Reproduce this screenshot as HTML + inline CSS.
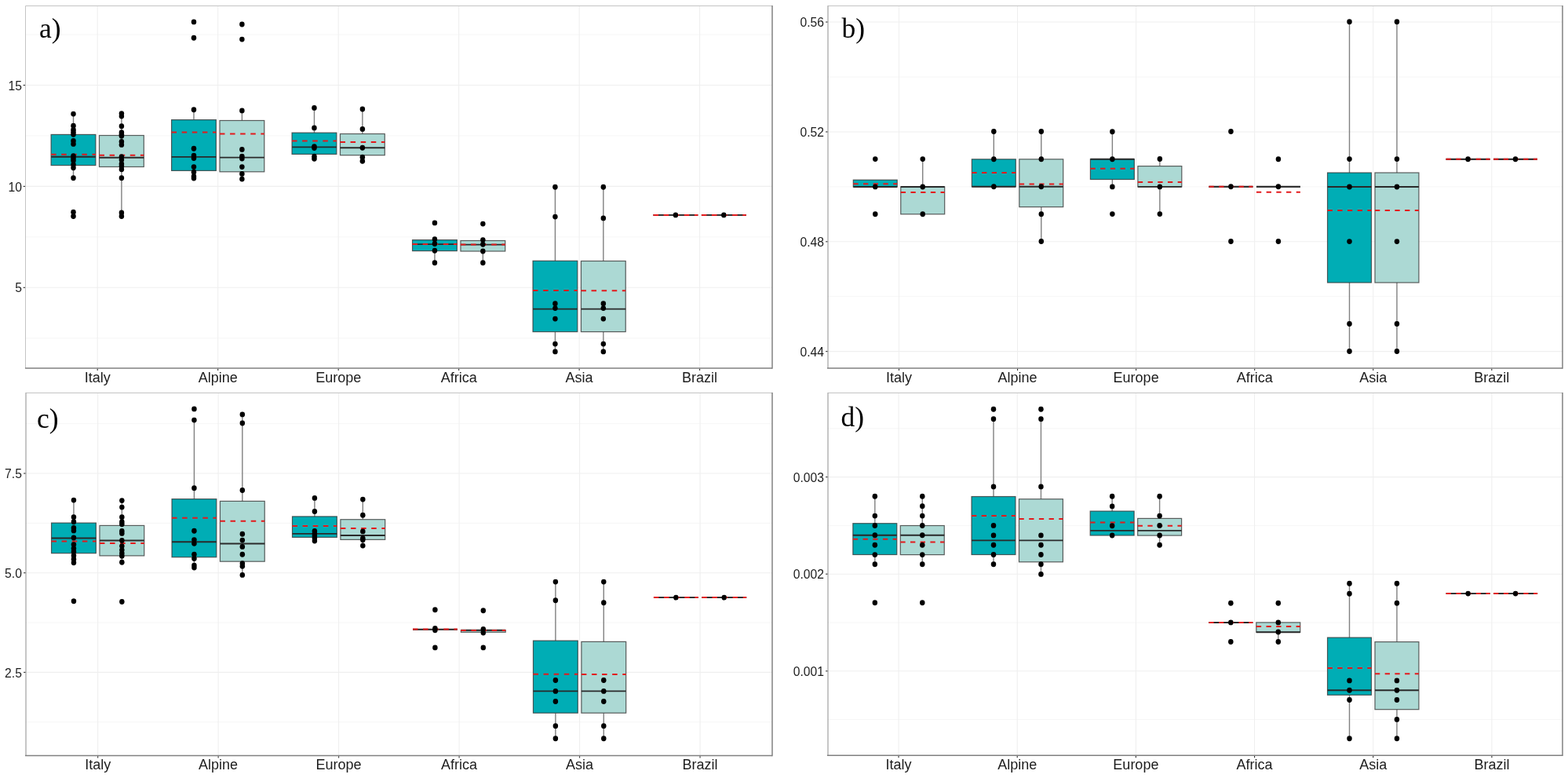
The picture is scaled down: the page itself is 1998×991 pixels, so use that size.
<!DOCTYPE html>
<html><head><meta charset="utf-8"><title>Boxplots a-d</title>
<style>
html,body{margin:0;padding:0;background:#fff;}
body{width:1998px;height:991px;overflow:hidden;}
svg{display:block;}
.yl{font-family:"Liberation Sans",sans-serif;font-size:15.7px;fill:#1c1c1c;text-anchor:end;}
.xl{font-family:"Liberation Sans",sans-serif;font-size:18px;fill:#1c1c1c;text-anchor:middle;}
.pl{font-family:"Liberation Serif",serif;font-size:35.5px;fill:#000;}
</style></head>
<body>
<svg width="1998" height="991" viewBox="0 0 1998 991">
<rect width="1998" height="991" fill="#fff"/>
<line x1="32.5" x2="984" y1="44.05" y2="44.05" stroke="#f6f6f6" stroke-width="1"/><line x1="32.5" x2="984" y1="172.95" y2="172.95" stroke="#f6f6f6" stroke-width="1"/><line x1="32.5" x2="984" y1="301.85" y2="301.85" stroke="#f6f6f6" stroke-width="1"/><line x1="32.5" x2="984" y1="430.75" y2="430.75" stroke="#f6f6f6" stroke-width="1"/><line x1="32.5" x2="984" y1="108.5" y2="108.5" stroke="#efefef" stroke-width="1.1"/><line x1="32.5" x2="984" y1="237.4" y2="237.4" stroke="#efefef" stroke-width="1.1"/><line x1="32.5" x2="984" y1="366.3" y2="366.3" stroke="#efefef" stroke-width="1.1"/><line x1="124.2" x2="124.2" y1="7.5" y2="469" stroke="#efefef" stroke-width="1.1"/><line x1="277.68" x2="277.68" y1="7.5" y2="469" stroke="#efefef" stroke-width="1.1"/><line x1="431.16" x2="431.16" y1="7.5" y2="469" stroke="#efefef" stroke-width="1.1"/><line x1="584.64" x2="584.64" y1="7.5" y2="469" stroke="#efefef" stroke-width="1.1"/><line x1="738.12" x2="738.12" y1="7.5" y2="469" stroke="#efefef" stroke-width="1.1"/><line x1="891.6" x2="891.6" y1="7.5" y2="469" stroke="#efefef" stroke-width="1.1"/>
<line x1="93.5" x2="93.5" y1="145.1" y2="171.4" stroke="#808080" stroke-width="1.4"/><line x1="93.5" x2="93.5" y1="210.6" y2="226.8" stroke="#808080" stroke-width="1.4"/><rect x="65.1" y="171.4" width="56.8" height="39.2" fill="#00adb5" stroke="rgba(51,51,51,0.78)" stroke-width="1.2"/><line x1="65.1" x2="121.9" y1="199.7" y2="199.7" stroke="#2a2a2a" stroke-width="1.9"/><line x1="65.1" x2="121.9" y1="196.8" y2="196.8" stroke="#e31a1c" stroke-width="2.0" stroke-dasharray="6.5 6.6"/><ellipse cx="93.5" cy="145.1" rx="3.25" ry="3.45"/><ellipse cx="93.5" cy="160.2" rx="3.25" ry="3.45"/><ellipse cx="93.5" cy="165.3" rx="3.25" ry="3.45"/><ellipse cx="93.5" cy="168.3" rx="3.25" ry="3.45"/><ellipse cx="93.5" cy="171.3" rx="3.25" ry="3.45"/><ellipse cx="93.5" cy="179.4" rx="3.25" ry="3.45"/><ellipse cx="93.5" cy="183.4" rx="3.25" ry="3.45"/><ellipse cx="93.5" cy="198.6" rx="3.25" ry="3.45"/><ellipse cx="93.5" cy="201.6" rx="3.25" ry="3.45"/><ellipse cx="93.5" cy="204.6" rx="3.25" ry="3.45"/><ellipse cx="93.5" cy="209.7" rx="3.25" ry="3.45"/><ellipse cx="93.5" cy="213.7" rx="3.25" ry="3.45"/><ellipse cx="93.5" cy="226.8" rx="3.25" ry="3.45"/><ellipse cx="93.5" cy="270.3" rx="3.25" ry="3.45"/><ellipse cx="93.5" cy="275.5" rx="3.25" ry="3.45"/>
<line x1="154.9" x2="154.9" y1="144.6" y2="172.5" stroke="#808080" stroke-width="1.4"/><line x1="154.9" x2="154.9" y1="212.5" y2="271" stroke="#808080" stroke-width="1.4"/><rect x="126.5" y="172.5" width="56.8" height="40" fill="#acd9d4" stroke="rgba(51,51,51,0.78)" stroke-width="1.2"/><line x1="126.5" x2="183.3" y1="200.8" y2="200.8" stroke="#2a2a2a" stroke-width="1.9"/><line x1="126.5" x2="183.3" y1="197.8" y2="197.8" stroke="#e31a1c" stroke-width="2.0" stroke-dasharray="6.5 6.6"/><ellipse cx="154.9" cy="144.6" rx="3.25" ry="3.45"/><ellipse cx="154.9" cy="148.1" rx="3.25" ry="3.45"/><ellipse cx="154.9" cy="160.7" rx="3.25" ry="3.45"/><ellipse cx="154.9" cy="168.8" rx="3.25" ry="3.45"/><ellipse cx="154.9" cy="171.3" rx="3.25" ry="3.45"/><ellipse cx="154.9" cy="173.3" rx="3.25" ry="3.45"/><ellipse cx="154.9" cy="180.4" rx="3.25" ry="3.45"/><ellipse cx="154.9" cy="184.4" rx="3.25" ry="3.45"/><ellipse cx="154.9" cy="199.6" rx="3.25" ry="3.45"/><ellipse cx="154.9" cy="203.6" rx="3.25" ry="3.45"/><ellipse cx="154.9" cy="208.7" rx="3.25" ry="3.45"/><ellipse cx="154.9" cy="211.7" rx="3.25" ry="3.45"/><ellipse cx="154.9" cy="215.7" rx="3.25" ry="3.45"/><ellipse cx="154.9" cy="226.8" rx="3.25" ry="3.45"/><ellipse cx="154.9" cy="271" rx="3.25" ry="3.45"/><ellipse cx="154.9" cy="275.5" rx="3.25" ry="3.45"/>
<line x1="246.98" x2="246.98" y1="139.7" y2="152.6" stroke="#808080" stroke-width="1.4"/><line x1="246.98" x2="246.98" y1="217.4" y2="227" stroke="#808080" stroke-width="1.4"/><rect x="218.58" y="152.6" width="56.8" height="64.8" fill="#00adb5" stroke="rgba(51,51,51,0.78)" stroke-width="1.2"/><line x1="218.58" x2="275.38" y1="199.9" y2="199.9" stroke="#2a2a2a" stroke-width="1.9"/><line x1="218.58" x2="275.38" y1="168.6" y2="168.6" stroke="#e31a1c" stroke-width="2.0" stroke-dasharray="6.5 6.6"/><ellipse cx="246.98" cy="27.9" rx="3.25" ry="3.45"/><ellipse cx="246.98" cy="48.3" rx="3.25" ry="3.45"/><ellipse cx="246.98" cy="139.7" rx="3.25" ry="3.45"/><ellipse cx="246.98" cy="189.3" rx="3.25" ry="3.45"/><ellipse cx="246.98" cy="198.1" rx="3.25" ry="3.45"/><ellipse cx="246.98" cy="201.5" rx="3.25" ry="3.45"/><ellipse cx="246.98" cy="212.6" rx="3.25" ry="3.45"/><ellipse cx="246.98" cy="219.2" rx="3.25" ry="3.45"/><ellipse cx="246.98" cy="224.8" rx="3.25" ry="3.45"/><ellipse cx="246.98" cy="227" rx="3.25" ry="3.45"/>
<line x1="308.38" x2="308.38" y1="140.9" y2="153.5" stroke="#808080" stroke-width="1.4"/><line x1="308.38" x2="308.38" y1="218.8" y2="228.1" stroke="#808080" stroke-width="1.4"/><rect x="279.98" y="153.5" width="56.8" height="65.3" fill="#acd9d4" stroke="rgba(51,51,51,0.78)" stroke-width="1.2"/><line x1="279.98" x2="336.78" y1="200.6" y2="200.6" stroke="#2a2a2a" stroke-width="1.9"/><line x1="279.98" x2="336.78" y1="170.4" y2="170.4" stroke="#e31a1c" stroke-width="2.0" stroke-dasharray="6.5 6.6"/><ellipse cx="308.38" cy="31" rx="3.25" ry="3.45"/><ellipse cx="308.38" cy="50.1" rx="3.25" ry="3.45"/><ellipse cx="308.38" cy="140.9" rx="3.25" ry="3.45"/><ellipse cx="308.38" cy="190.4" rx="3.25" ry="3.45"/><ellipse cx="308.38" cy="199.2" rx="3.25" ry="3.45"/><ellipse cx="308.38" cy="202.1" rx="3.25" ry="3.45"/><ellipse cx="308.38" cy="212.6" rx="3.25" ry="3.45"/><ellipse cx="308.38" cy="221.4" rx="3.25" ry="3.45"/><ellipse cx="308.38" cy="228.1" rx="3.25" ry="3.45"/>
<line x1="400.46" x2="400.46" y1="137.4" y2="169.1" stroke="#808080" stroke-width="1.4"/><line x1="400.46" x2="400.46" y1="196.4" y2="202.3" stroke="#808080" stroke-width="1.4"/><rect x="372.06" y="169.1" width="56.8" height="27.3" fill="#00adb5" stroke="rgba(51,51,51,0.78)" stroke-width="1.2"/><line x1="372.06" x2="428.86" y1="187.4" y2="187.4" stroke="#2a2a2a" stroke-width="1.9"/><line x1="372.06" x2="428.86" y1="179.6" y2="179.6" stroke="#e31a1c" stroke-width="2.0" stroke-dasharray="6.5 6.6"/><ellipse cx="400.46" cy="137.4" rx="3.25" ry="3.45"/><ellipse cx="400.46" cy="162.9" rx="3.25" ry="3.45"/><ellipse cx="400.46" cy="186.6" rx="3.25" ry="3.45"/><ellipse cx="400.46" cy="188.6" rx="3.25" ry="3.45"/><ellipse cx="400.46" cy="199.2" rx="3.25" ry="3.45"/><ellipse cx="400.46" cy="202.3" rx="3.25" ry="3.45"/>
<line x1="461.86" x2="461.86" y1="139" y2="170.5" stroke="#808080" stroke-width="1.4"/><line x1="461.86" x2="461.86" y1="197.7" y2="205.3" stroke="#808080" stroke-width="1.4"/><rect x="433.46" y="170.5" width="56.8" height="27.2" fill="#acd9d4" stroke="rgba(51,51,51,0.78)" stroke-width="1.2"/><line x1="433.46" x2="490.26" y1="188.3" y2="188.3" stroke="#2a2a2a" stroke-width="1.9"/><line x1="433.46" x2="490.26" y1="180.9" y2="180.9" stroke="#e31a1c" stroke-width="2.0" stroke-dasharray="6.5 6.6"/><ellipse cx="461.86" cy="139" rx="3.25" ry="3.45"/><ellipse cx="461.86" cy="164.4" rx="3.25" ry="3.45"/><ellipse cx="461.86" cy="188.3" rx="3.25" ry="3.45"/><ellipse cx="461.86" cy="200.2" rx="3.25" ry="3.45"/><ellipse cx="461.86" cy="205.3" rx="3.25" ry="3.45"/>
<line x1="553.94" x2="553.94" y1="319.6" y2="334.7" stroke="#808080" stroke-width="1.4"/><rect x="525.54" y="305.6" width="56.8" height="14" fill="#00adb5" stroke="rgba(51,51,51,0.78)" stroke-width="1.2"/><line x1="525.54" x2="582.34" y1="311.1" y2="311.1" stroke="#2a2a2a" stroke-width="1.9"/><line x1="525.54" x2="582.34" y1="311" y2="311" stroke="#e31a1c" stroke-width="2.0" stroke-dasharray="6.5 6.6"/><ellipse cx="553.94" cy="283.9" rx="3.25" ry="3.45"/><ellipse cx="553.94" cy="304.8" rx="3.25" ry="3.45"/><ellipse cx="553.94" cy="310.5" rx="3.25" ry="3.45"/><ellipse cx="553.94" cy="319.2" rx="3.25" ry="3.45"/><ellipse cx="553.94" cy="334.7" rx="3.25" ry="3.45"/>
<line x1="615.34" x2="615.34" y1="320" y2="334.7" stroke="#808080" stroke-width="1.4"/><rect x="586.94" y="306.5" width="56.8" height="13.5" fill="#acd9d4" stroke="rgba(51,51,51,0.78)" stroke-width="1.2"/><line x1="586.94" x2="643.74" y1="311.6" y2="311.6" stroke="#2a2a2a" stroke-width="1.9"/><line x1="586.94" x2="643.74" y1="311.6" y2="311.6" stroke="#e31a1c" stroke-width="2.0" stroke-dasharray="6.5 6.6"/><ellipse cx="615.34" cy="285.1" rx="3.25" ry="3.45"/><ellipse cx="615.34" cy="305.6" rx="3.25" ry="3.45"/><ellipse cx="615.34" cy="311.3" rx="3.25" ry="3.45"/><ellipse cx="615.34" cy="320" rx="3.25" ry="3.45"/><ellipse cx="615.34" cy="334.7" rx="3.25" ry="3.45"/>
<line x1="707.42" x2="707.42" y1="238.2" y2="332.3" stroke="#808080" stroke-width="1.4"/><line x1="707.42" x2="707.42" y1="422.6" y2="447.9" stroke="#808080" stroke-width="1.4"/><rect x="679.02" y="332.3" width="56.8" height="90.3" fill="#00adb5" stroke="rgba(51,51,51,0.78)" stroke-width="1.2"/><line x1="679.02" x2="735.82" y1="393.6" y2="393.6" stroke="#2a2a2a" stroke-width="1.9"/><line x1="679.02" x2="735.82" y1="370.1" y2="370.1" stroke="#e31a1c" stroke-width="2.0" stroke-dasharray="6.5 6.6"/><ellipse cx="707.42" cy="238.2" rx="3.25" ry="3.45"/><ellipse cx="707.42" cy="276.1" rx="3.25" ry="3.45"/><ellipse cx="707.42" cy="386.8" rx="3.25" ry="3.45"/><ellipse cx="707.42" cy="392.6" rx="3.25" ry="3.45"/><ellipse cx="707.42" cy="406.1" rx="3.25" ry="3.45"/><ellipse cx="707.42" cy="438.1" rx="3.25" ry="3.45"/><ellipse cx="707.42" cy="447.9" rx="3.25" ry="3.45"/>
<line x1="768.82" x2="768.82" y1="238.2" y2="332.5" stroke="#808080" stroke-width="1.4"/><line x1="768.82" x2="768.82" y1="422.6" y2="447.9" stroke="#808080" stroke-width="1.4"/><rect x="740.42" y="332.5" width="56.8" height="90.1" fill="#acd9d4" stroke="rgba(51,51,51,0.78)" stroke-width="1.2"/><line x1="740.42" x2="797.22" y1="393.6" y2="393.6" stroke="#2a2a2a" stroke-width="1.9"/><line x1="740.42" x2="797.22" y1="370.3" y2="370.3" stroke="#e31a1c" stroke-width="2.0" stroke-dasharray="6.5 6.6"/><ellipse cx="768.82" cy="238.2" rx="3.25" ry="3.45"/><ellipse cx="768.82" cy="277.9" rx="3.25" ry="3.45"/><ellipse cx="768.82" cy="386.8" rx="3.25" ry="3.45"/><ellipse cx="768.82" cy="392.6" rx="3.25" ry="3.45"/><ellipse cx="768.82" cy="406.1" rx="3.25" ry="3.45"/><ellipse cx="768.82" cy="438.1" rx="3.25" ry="3.45"/><ellipse cx="768.82" cy="447.9" rx="3.25" ry="3.45"/>
<line x1="832.5" x2="889.3" y1="274" y2="274" stroke="#444" stroke-width="1.4"/><line x1="832.5" x2="889.3" y1="273.9" y2="273.9" stroke="#2a2a2a" stroke-width="1.9"/><line x1="832.5" x2="889.3" y1="273.9" y2="273.9" stroke="#e31a1c" stroke-width="2.0" stroke-dasharray="6.5 6.6"/><ellipse cx="860.9" cy="273.9" rx="3.25" ry="3.45"/>
<line x1="893.9" x2="950.7" y1="274" y2="274" stroke="#444" stroke-width="1.4"/><line x1="893.9" x2="950.7" y1="273.9" y2="273.9" stroke="#2a2a2a" stroke-width="1.9"/><line x1="893.9" x2="950.7" y1="273.9" y2="273.9" stroke="#e31a1c" stroke-width="2.0" stroke-dasharray="6.5 6.6"/><ellipse cx="922.3" cy="273.9" rx="3.25" ry="3.45"/>
<line x1="32.5" x2="984" y1="7.5" y2="7.5" stroke="#c4c4c4" stroke-width="1"/>
<line x1="32.5" x2="32.5" y1="7.5" y2="469" stroke="#c4c4c4" stroke-width="1"/>
<line x1="984" x2="984" y1="7" y2="469.75" stroke="#808080" stroke-width="1.5"/>
<line x1="32" x2="984" y1="469" y2="469" stroke="#808080" stroke-width="1.5"/>
<line x1="29.6" x2="32" y1="108.5" y2="108.5" stroke="#333" stroke-width="1.1"/><line x1="29.6" x2="32" y1="237.4" y2="237.4" stroke="#333" stroke-width="1.1"/><line x1="29.6" x2="32" y1="366.3" y2="366.3" stroke="#333" stroke-width="1.1"/><line x1="124.2" x2="124.2" y1="469.7" y2="472" stroke="#333" stroke-width="1.1"/><line x1="277.68" x2="277.68" y1="469.7" y2="472" stroke="#333" stroke-width="1.1"/><line x1="431.16" x2="431.16" y1="469.7" y2="472" stroke="#333" stroke-width="1.1"/><line x1="584.64" x2="584.64" y1="469.7" y2="472" stroke="#333" stroke-width="1.1"/><line x1="738.12" x2="738.12" y1="469.7" y2="472" stroke="#333" stroke-width="1.1"/><line x1="891.6" x2="891.6" y1="469.7" y2="472" stroke="#333" stroke-width="1.1"/>
<text x="27.9" y="114.6" class="yl">15</text><text x="27.9" y="243.5" class="yl">10</text><text x="27.9" y="372.4" class="yl">5</text><text x="124.2" y="487" class="xl">Italy</text><text x="277.68" y="487" class="xl">Alpine</text><text x="431.16" y="487" class="xl">Europe</text><text x="584.64" y="487" class="xl">Africa</text><text x="738.12" y="487" class="xl">Asia</text><text x="891.6" y="487" class="xl">Brazil</text><text x="50" y="47.7" class="pl">a)</text>
<line x1="1054.5" x2="1991" y1="98" y2="98" stroke="#f6f6f6" stroke-width="1"/><line x1="1054.5" x2="1991" y1="237.9" y2="237.9" stroke="#f6f6f6" stroke-width="1"/><line x1="1054.5" x2="1991" y1="377.7" y2="377.7" stroke="#f6f6f6" stroke-width="1"/><line x1="1054.5" x2="1991" y1="28.05" y2="28.05" stroke="#efefef" stroke-width="1.1"/><line x1="1054.5" x2="1991" y1="167.95" y2="167.95" stroke="#efefef" stroke-width="1.1"/><line x1="1054.5" x2="1991" y1="307.8" y2="307.8" stroke="#efefef" stroke-width="1.1"/><line x1="1054.5" x2="1991" y1="447.65" y2="447.65" stroke="#efefef" stroke-width="1.1"/><line x1="1145.5" x2="1145.5" y1="7.5" y2="469" stroke="#efefef" stroke-width="1.1"/><line x1="1296.56" x2="1296.56" y1="7.5" y2="469" stroke="#efefef" stroke-width="1.1"/><line x1="1447.62" x2="1447.62" y1="7.5" y2="469" stroke="#efefef" stroke-width="1.1"/><line x1="1598.68" x2="1598.68" y1="7.5" y2="469" stroke="#efefef" stroke-width="1.1"/><line x1="1749.74" x2="1749.74" y1="7.5" y2="469" stroke="#efefef" stroke-width="1.1"/><line x1="1900.8" x2="1900.8" y1="7.5" y2="469" stroke="#efefef" stroke-width="1.1"/>
<rect x="1087.3" y="229.2" width="55.94" height="8.8" fill="#00adb5" stroke="rgba(51,51,51,0.78)" stroke-width="1.2"/><line x1="1087.3" x2="1143.24" y1="238" y2="238" stroke="#2a2a2a" stroke-width="1.9"/><line x1="1087.3" x2="1143.24" y1="234.2" y2="234.2" stroke="#e31a1c" stroke-width="2.0" stroke-dasharray="6.3 6.4"/><ellipse cx="1115.27" cy="202.6" rx="3.25" ry="3.45"/><ellipse cx="1115.27" cy="237.9" rx="3.25" ry="3.45"/><ellipse cx="1115.27" cy="272.8" rx="3.25" ry="3.45"/>
<line x1="1175.73" x2="1175.73" y1="202.6" y2="238" stroke="#808080" stroke-width="1.4"/><rect x="1147.76" y="238" width="55.94" height="34.8" fill="#acd9d4" stroke="rgba(51,51,51,0.78)" stroke-width="1.2"/><line x1="1147.76" x2="1203.7" y1="238" y2="238" stroke="#2a2a2a" stroke-width="1.9"/><line x1="1147.76" x2="1203.7" y1="245" y2="245" stroke="#e31a1c" stroke-width="2.0" stroke-dasharray="6.3 6.4"/><ellipse cx="1175.73" cy="202.6" rx="3.25" ry="3.45"/><ellipse cx="1175.73" cy="238" rx="3.25" ry="3.45"/><ellipse cx="1175.73" cy="272.8" rx="3.25" ry="3.45"/>
<line x1="1266.33" x2="1266.33" y1="167.5" y2="202.8" stroke="#808080" stroke-width="1.4"/><rect x="1238.36" y="202.8" width="55.94" height="35" fill="#00adb5" stroke="rgba(51,51,51,0.78)" stroke-width="1.2"/><line x1="1238.36" x2="1294.3" y1="237.8" y2="237.8" stroke="#2a2a2a" stroke-width="1.9"/><line x1="1238.36" x2="1294.3" y1="220" y2="220" stroke="#e31a1c" stroke-width="2.0" stroke-dasharray="6.3 6.4"/><ellipse cx="1266.33" cy="167.5" rx="3.25" ry="3.45"/><ellipse cx="1266.33" cy="202.8" rx="3.25" ry="3.45"/><ellipse cx="1266.33" cy="237.8" rx="3.25" ry="3.45"/>
<line x1="1326.79" x2="1326.79" y1="167.5" y2="202.8" stroke="#808080" stroke-width="1.4"/><line x1="1326.79" x2="1326.79" y1="263.6" y2="307.5" stroke="#808080" stroke-width="1.4"/><rect x="1298.82" y="202.8" width="55.94" height="60.8" fill="#acd9d4" stroke="rgba(51,51,51,0.78)" stroke-width="1.2"/><line x1="1298.82" x2="1354.76" y1="237.8" y2="237.8" stroke="#2a2a2a" stroke-width="1.9"/><line x1="1298.82" x2="1354.76" y1="234.4" y2="234.4" stroke="#e31a1c" stroke-width="2.0" stroke-dasharray="6.3 6.4"/><ellipse cx="1326.79" cy="167.5" rx="3.25" ry="3.45"/><ellipse cx="1326.79" cy="202.8" rx="3.25" ry="3.45"/><ellipse cx="1326.79" cy="237.8" rx="3.25" ry="3.45"/><ellipse cx="1326.79" cy="272.7" rx="3.25" ry="3.45"/><ellipse cx="1326.79" cy="307.5" rx="3.25" ry="3.45"/>
<line x1="1417.39" x2="1417.39" y1="167.7" y2="202.7" stroke="#808080" stroke-width="1.4"/><line x1="1417.39" x2="1417.39" y1="228.5" y2="237.9" stroke="#808080" stroke-width="1.4"/><rect x="1389.42" y="202.7" width="55.94" height="25.8" fill="#00adb5" stroke="rgba(51,51,51,0.78)" stroke-width="1.2"/><line x1="1389.42" x2="1445.36" y1="202.7" y2="202.7" stroke="#2a2a2a" stroke-width="1.9"/><line x1="1389.42" x2="1445.36" y1="214.7" y2="214.7" stroke="#e31a1c" stroke-width="2.0" stroke-dasharray="6.3 6.4"/><ellipse cx="1417.39" cy="167.7" rx="3.25" ry="3.45"/><ellipse cx="1417.39" cy="202.7" rx="3.25" ry="3.45"/><ellipse cx="1417.39" cy="237.9" rx="3.25" ry="3.45"/><ellipse cx="1417.39" cy="272.6" rx="3.25" ry="3.45"/>
<line x1="1477.85" x2="1477.85" y1="202.5" y2="211.6" stroke="#808080" stroke-width="1.4"/><line x1="1477.85" x2="1477.85" y1="237.9" y2="272.6" stroke="#808080" stroke-width="1.4"/><rect x="1449.88" y="211.6" width="55.94" height="26.3" fill="#acd9d4" stroke="rgba(51,51,51,0.78)" stroke-width="1.2"/><line x1="1449.88" x2="1505.82" y1="237.9" y2="237.9" stroke="#2a2a2a" stroke-width="1.9"/><line x1="1449.88" x2="1505.82" y1="231.9" y2="231.9" stroke="#e31a1c" stroke-width="2.0" stroke-dasharray="6.3 6.4"/><ellipse cx="1477.85" cy="202.5" rx="3.25" ry="3.45"/><ellipse cx="1477.85" cy="237.9" rx="3.25" ry="3.45"/><ellipse cx="1477.85" cy="272.6" rx="3.25" ry="3.45"/>
<line x1="1540.48" x2="1596.42" y1="238" y2="238" stroke="#444" stroke-width="1.4"/><line x1="1540.48" x2="1596.42" y1="237.8" y2="237.8" stroke="#2a2a2a" stroke-width="1.9"/><line x1="1540.48" x2="1596.42" y1="237.8" y2="237.8" stroke="#e31a1c" stroke-width="2.0" stroke-dasharray="6.3 6.4"/><ellipse cx="1568.45" cy="167.5" rx="3.25" ry="3.45"/><ellipse cx="1568.45" cy="237.8" rx="3.25" ry="3.45"/><ellipse cx="1568.45" cy="307.5" rx="3.25" ry="3.45"/>
<line x1="1600.94" x2="1656.88" y1="238" y2="238" stroke="#444" stroke-width="1.4"/><line x1="1600.94" x2="1656.88" y1="237.8" y2="237.8" stroke="#2a2a2a" stroke-width="1.9"/><line x1="1600.94" x2="1656.88" y1="244.7" y2="244.7" stroke="#e31a1c" stroke-width="2.0" stroke-dasharray="6.3 6.4"/><ellipse cx="1628.91" cy="202.7" rx="3.25" ry="3.45"/><ellipse cx="1628.91" cy="237.8" rx="3.25" ry="3.45"/><ellipse cx="1628.91" cy="307.5" rx="3.25" ry="3.45"/>
<line x1="1719.51" x2="1719.51" y1="27.7" y2="220" stroke="#808080" stroke-width="1.4"/><line x1="1719.51" x2="1719.51" y1="360" y2="447.5" stroke="#808080" stroke-width="1.4"/><rect x="1691.54" y="220" width="55.94" height="140" fill="#00adb5" stroke="rgba(51,51,51,0.78)" stroke-width="1.2"/><line x1="1691.54" x2="1747.48" y1="238" y2="238" stroke="#2a2a2a" stroke-width="1.9"/><line x1="1691.54" x2="1747.48" y1="268" y2="268" stroke="#e31a1c" stroke-width="2.0" stroke-dasharray="6.3 6.4"/><ellipse cx="1719.51" cy="27.7" rx="3.25" ry="3.45"/><ellipse cx="1719.51" cy="202.6" rx="3.25" ry="3.45"/><ellipse cx="1719.51" cy="238" rx="3.25" ry="3.45"/><ellipse cx="1719.51" cy="307.6" rx="3.25" ry="3.45"/><ellipse cx="1719.51" cy="412.5" rx="3.25" ry="3.45"/><ellipse cx="1719.51" cy="447.5" rx="3.25" ry="3.45"/>
<line x1="1779.97" x2="1779.97" y1="27.7" y2="220" stroke="#808080" stroke-width="1.4"/><line x1="1779.97" x2="1779.97" y1="360" y2="447.5" stroke="#808080" stroke-width="1.4"/><rect x="1752" y="220" width="55.94" height="140" fill="#acd9d4" stroke="rgba(51,51,51,0.78)" stroke-width="1.2"/><line x1="1752" x2="1807.94" y1="238" y2="238" stroke="#2a2a2a" stroke-width="1.9"/><line x1="1752" x2="1807.94" y1="268" y2="268" stroke="#e31a1c" stroke-width="2.0" stroke-dasharray="6.3 6.4"/><ellipse cx="1779.97" cy="27.7" rx="3.25" ry="3.45"/><ellipse cx="1779.97" cy="202.6" rx="3.25" ry="3.45"/><ellipse cx="1779.97" cy="238" rx="3.25" ry="3.45"/><ellipse cx="1779.97" cy="307.6" rx="3.25" ry="3.45"/><ellipse cx="1779.97" cy="412.5" rx="3.25" ry="3.45"/><ellipse cx="1779.97" cy="447.5" rx="3.25" ry="3.45"/>
<line x1="1842.6" x2="1898.54" y1="203" y2="203" stroke="#444" stroke-width="1.4"/><line x1="1842.6" x2="1898.54" y1="202.8" y2="202.8" stroke="#2a2a2a" stroke-width="1.9"/><line x1="1842.6" x2="1898.54" y1="202.8" y2="202.8" stroke="#e31a1c" stroke-width="2.0" stroke-dasharray="6.3 6.4"/><ellipse cx="1870.57" cy="202.8" rx="3.25" ry="3.45"/>
<line x1="1903.06" x2="1959" y1="203" y2="203" stroke="#444" stroke-width="1.4"/><line x1="1903.06" x2="1959" y1="202.8" y2="202.8" stroke="#2a2a2a" stroke-width="1.9"/><line x1="1903.06" x2="1959" y1="202.8" y2="202.8" stroke="#e31a1c" stroke-width="2.0" stroke-dasharray="6.3 6.4"/><ellipse cx="1931.03" cy="202.8" rx="3.25" ry="3.45"/>
<line x1="1054.5" x2="1991" y1="7.5" y2="7.5" stroke="#c4c4c4" stroke-width="1"/>
<line x1="1055" x2="1055" y1="7.5" y2="469" stroke="#8e8e8e" stroke-width="1"/>
<line x1="1991" x2="1991" y1="7" y2="469.75" stroke="#808080" stroke-width="1.5"/>
<line x1="1054" x2="1991" y1="469" y2="469" stroke="#808080" stroke-width="1.5"/>
<line x1="1052.1" x2="1054.5" y1="28.05" y2="28.05" stroke="#333" stroke-width="1.1"/><line x1="1052.1" x2="1054.5" y1="167.95" y2="167.95" stroke="#333" stroke-width="1.1"/><line x1="1052.1" x2="1054.5" y1="307.8" y2="307.8" stroke="#333" stroke-width="1.1"/><line x1="1052.1" x2="1054.5" y1="447.65" y2="447.65" stroke="#333" stroke-width="1.1"/><line x1="1145.5" x2="1145.5" y1="469.7" y2="472" stroke="#333" stroke-width="1.1"/><line x1="1296.56" x2="1296.56" y1="469.7" y2="472" stroke="#333" stroke-width="1.1"/><line x1="1447.62" x2="1447.62" y1="469.7" y2="472" stroke="#333" stroke-width="1.1"/><line x1="1598.68" x2="1598.68" y1="469.7" y2="472" stroke="#333" stroke-width="1.1"/><line x1="1749.74" x2="1749.74" y1="469.7" y2="472" stroke="#333" stroke-width="1.1"/><line x1="1900.8" x2="1900.8" y1="469.7" y2="472" stroke="#333" stroke-width="1.1"/>
<text x="1050" y="34.15" class="yl">0.56</text><text x="1050" y="174.05" class="yl">0.52</text><text x="1050" y="313.9" class="yl">0.48</text><text x="1050" y="453.75" class="yl">0.44</text><text x="1145.5" y="487" class="xl">Italy</text><text x="1296.56" y="487" class="xl">Alpine</text><text x="1447.62" y="487" class="xl">Europe</text><text x="1598.68" y="487" class="xl">Africa</text><text x="1749.74" y="487" class="xl">Asia</text><text x="1900.8" y="487" class="xl">Brazil</text><text x="1072.5" y="48" class="pl">b)</text>
<line x1="32.5" x2="984" y1="539.65" y2="539.65" stroke="#f6f6f6" stroke-width="1"/><line x1="32.5" x2="984" y1="666.35" y2="666.35" stroke="#f6f6f6" stroke-width="1"/><line x1="32.5" x2="984" y1="793.05" y2="793.05" stroke="#f6f6f6" stroke-width="1"/><line x1="32.5" x2="984" y1="919.75" y2="919.75" stroke="#f6f6f6" stroke-width="1"/><line x1="32.5" x2="984" y1="603" y2="603" stroke="#efefef" stroke-width="1.1"/><line x1="32.5" x2="984" y1="729.7" y2="729.7" stroke="#efefef" stroke-width="1.1"/><line x1="32.5" x2="984" y1="856.4" y2="856.4" stroke="#efefef" stroke-width="1.1"/><line x1="124.65" x2="124.65" y1="500.5" y2="962.5" stroke="#efefef" stroke-width="1.1"/><line x1="278.13" x2="278.13" y1="500.5" y2="962.5" stroke="#efefef" stroke-width="1.1"/><line x1="431.61" x2="431.61" y1="500.5" y2="962.5" stroke="#efefef" stroke-width="1.1"/><line x1="585.09" x2="585.09" y1="500.5" y2="962.5" stroke="#efefef" stroke-width="1.1"/><line x1="738.57" x2="738.57" y1="500.5" y2="962.5" stroke="#efefef" stroke-width="1.1"/><line x1="892.05" x2="892.05" y1="500.5" y2="962.5" stroke="#efefef" stroke-width="1.1"/>
<line x1="93.95" x2="93.95" y1="637.1" y2="666.1" stroke="#808080" stroke-width="1.4"/><line x1="93.95" x2="93.95" y1="704.7" y2="716.8" stroke="#808080" stroke-width="1.4"/><rect x="65.55" y="666.1" width="56.8" height="38.6" fill="#00adb5" stroke="rgba(51,51,51,0.78)" stroke-width="1.2"/><line x1="65.55" x2="122.35" y1="685.5" y2="685.5" stroke="#2a2a2a" stroke-width="1.9"/><line x1="65.55" x2="122.35" y1="689.5" y2="689.5" stroke="#e31a1c" stroke-width="2.0" stroke-dasharray="6.5 6.6"/><ellipse cx="93.95" cy="637.1" rx="3.25" ry="3.45"/><ellipse cx="93.95" cy="658.8" rx="3.25" ry="3.45"/><ellipse cx="93.95" cy="664.8" rx="3.25" ry="3.45"/><ellipse cx="93.95" cy="672.4" rx="3.25" ry="3.45"/><ellipse cx="93.95" cy="675.9" rx="3.25" ry="3.45"/><ellipse cx="93.95" cy="685" rx="3.25" ry="3.45"/><ellipse cx="93.95" cy="693.6" rx="3.25" ry="3.45"/><ellipse cx="93.95" cy="698.6" rx="3.25" ry="3.45"/><ellipse cx="93.95" cy="702.7" rx="3.25" ry="3.45"/><ellipse cx="93.95" cy="707.7" rx="3.25" ry="3.45"/><ellipse cx="93.95" cy="712.2" rx="3.25" ry="3.45"/><ellipse cx="93.95" cy="716.8" rx="3.25" ry="3.45"/><ellipse cx="93.95" cy="765.8" rx="3.25" ry="3.45"/>
<line x1="155.35" x2="155.35" y1="637.6" y2="669.4" stroke="#808080" stroke-width="1.4"/><line x1="155.35" x2="155.35" y1="707.9" y2="716.3" stroke="#808080" stroke-width="1.4"/><rect x="126.95" y="669.4" width="56.8" height="38.5" fill="#acd9d4" stroke="rgba(51,51,51,0.78)" stroke-width="1.2"/><line x1="126.95" x2="183.75" y1="688.5" y2="688.5" stroke="#2a2a2a" stroke-width="1.9"/><line x1="126.95" x2="183.75" y1="692.1" y2="692.1" stroke="#e31a1c" stroke-width="2.0" stroke-dasharray="6.5 6.6"/><ellipse cx="155.35" cy="637.6" rx="3.25" ry="3.45"/><ellipse cx="155.35" cy="646.1" rx="3.25" ry="3.45"/><ellipse cx="155.35" cy="658.8" rx="3.25" ry="3.45"/><ellipse cx="155.35" cy="664.8" rx="3.25" ry="3.45"/><ellipse cx="155.35" cy="667.8" rx="3.25" ry="3.45"/><ellipse cx="155.35" cy="676.4" rx="3.25" ry="3.45"/><ellipse cx="155.35" cy="679.4" rx="3.25" ry="3.45"/><ellipse cx="155.35" cy="688.5" rx="3.25" ry="3.45"/><ellipse cx="155.35" cy="695.6" rx="3.25" ry="3.45"/><ellipse cx="155.35" cy="700.6" rx="3.25" ry="3.45"/><ellipse cx="155.35" cy="704.7" rx="3.25" ry="3.45"/><ellipse cx="155.35" cy="708.2" rx="3.25" ry="3.45"/><ellipse cx="155.35" cy="716.3" rx="3.25" ry="3.45"/><ellipse cx="155.35" cy="766.5" rx="3.25" ry="3.45"/>
<line x1="247.43" x2="247.43" y1="535.1" y2="635.6" stroke="#808080" stroke-width="1.4"/><line x1="247.43" x2="247.43" y1="709.7" y2="723.1" stroke="#808080" stroke-width="1.4"/><rect x="219.03" y="635.6" width="56.8" height="74.1" fill="#00adb5" stroke="rgba(51,51,51,0.78)" stroke-width="1.2"/><line x1="219.03" x2="275.83" y1="690.2" y2="690.2" stroke="#2a2a2a" stroke-width="1.9"/><line x1="219.03" x2="275.83" y1="659.8" y2="659.8" stroke="#e31a1c" stroke-width="2.0" stroke-dasharray="6.5 6.6"/><ellipse cx="247.43" cy="520.9" rx="3.25" ry="3.45"/><ellipse cx="247.43" cy="535.1" rx="3.25" ry="3.45"/><ellipse cx="247.43" cy="621.7" rx="3.25" ry="3.45"/><ellipse cx="247.43" cy="676.2" rx="3.25" ry="3.45"/><ellipse cx="247.43" cy="687.6" rx="3.25" ry="3.45"/><ellipse cx="247.43" cy="692.3" rx="3.25" ry="3.45"/><ellipse cx="247.43" cy="706.2" rx="3.25" ry="3.45"/><ellipse cx="247.43" cy="711.5" rx="3.25" ry="3.45"/><ellipse cx="247.43" cy="720.1" rx="3.25" ry="3.45"/><ellipse cx="247.43" cy="723.1" rx="3.25" ry="3.45"/>
<line x1="308.83" x2="308.83" y1="527.9" y2="638.4" stroke="#808080" stroke-width="1.4"/><line x1="308.83" x2="308.83" y1="715.2" y2="732.4" stroke="#808080" stroke-width="1.4"/><rect x="280.43" y="638.4" width="56.8" height="76.8" fill="#acd9d4" stroke="rgba(51,51,51,0.78)" stroke-width="1.2"/><line x1="280.43" x2="337.23" y1="692.5" y2="692.5" stroke="#2a2a2a" stroke-width="1.9"/><line x1="280.43" x2="337.23" y1="663.7" y2="663.7" stroke="#e31a1c" stroke-width="2.0" stroke-dasharray="6.5 6.6"/><ellipse cx="308.83" cy="527.9" rx="3.25" ry="3.45"/><ellipse cx="308.83" cy="539" rx="3.25" ry="3.45"/><ellipse cx="308.83" cy="624.5" rx="3.25" ry="3.45"/><ellipse cx="308.83" cy="680.2" rx="3.25" ry="3.45"/><ellipse cx="308.83" cy="688.1" rx="3.25" ry="3.45"/><ellipse cx="308.83" cy="696.4" rx="3.25" ry="3.45"/><ellipse cx="308.83" cy="706.2" rx="3.25" ry="3.45"/><ellipse cx="308.83" cy="717.8" rx="3.25" ry="3.45"/><ellipse cx="308.83" cy="721.3" rx="3.25" ry="3.45"/><ellipse cx="308.83" cy="732.4" rx="3.25" ry="3.45"/>
<line x1="400.91" x2="400.91" y1="634.4" y2="657.9" stroke="#808080" stroke-width="1.4"/><line x1="400.91" x2="400.91" y1="684.4" y2="689" stroke="#808080" stroke-width="1.4"/><rect x="372.51" y="657.9" width="56.8" height="26.5" fill="#00adb5" stroke="rgba(51,51,51,0.78)" stroke-width="1.2"/><line x1="372.51" x2="429.31" y1="679.9" y2="679.9" stroke="#2a2a2a" stroke-width="1.9"/><line x1="372.51" x2="429.31" y1="670" y2="670" stroke="#e31a1c" stroke-width="2.0" stroke-dasharray="6.5 6.6"/><ellipse cx="400.91" cy="634.4" rx="3.25" ry="3.45"/><ellipse cx="400.91" cy="651.5" rx="3.25" ry="3.45"/><ellipse cx="400.91" cy="676.5" rx="3.25" ry="3.45"/><ellipse cx="400.91" cy="679.7" rx="3.25" ry="3.45"/><ellipse cx="400.91" cy="682.6" rx="3.25" ry="3.45"/><ellipse cx="400.91" cy="685.4" rx="3.25" ry="3.45"/><ellipse cx="400.91" cy="689" rx="3.25" ry="3.45"/>
<line x1="462.31" x2="462.31" y1="636.1" y2="661.7" stroke="#808080" stroke-width="1.4"/><line x1="462.31" x2="462.31" y1="687.4" y2="695.1" stroke="#808080" stroke-width="1.4"/><rect x="433.91" y="661.7" width="56.8" height="25.7" fill="#acd9d4" stroke="rgba(51,51,51,0.78)" stroke-width="1.2"/><line x1="433.91" x2="490.71" y1="682" y2="682" stroke="#2a2a2a" stroke-width="1.9"/><line x1="433.91" x2="490.71" y1="673.1" y2="673.1" stroke="#e31a1c" stroke-width="2.0" stroke-dasharray="6.5 6.6"/><ellipse cx="462.31" cy="636.1" rx="3.25" ry="3.45"/><ellipse cx="462.31" cy="656.3" rx="3.25" ry="3.45"/><ellipse cx="462.31" cy="676.9" rx="3.25" ry="3.45"/><ellipse cx="462.31" cy="685.8" rx="3.25" ry="3.45"/><ellipse cx="462.31" cy="687.8" rx="3.25" ry="3.45"/><ellipse cx="462.31" cy="695.1" rx="3.25" ry="3.45"/>
<line x1="525.99" x2="582.79" y1="802" y2="802" stroke="#444" stroke-width="1.4"/><line x1="525.99" x2="582.79" y1="801.6" y2="801.6" stroke="#2a2a2a" stroke-width="1.9"/><line x1="525.99" x2="582.79" y1="801.6" y2="801.6" stroke="#e31a1c" stroke-width="2.0" stroke-dasharray="6.5 6.6"/><ellipse cx="554.39" cy="776.7" rx="3.25" ry="3.45"/><ellipse cx="554.39" cy="800.5" rx="3.25" ry="3.45"/><ellipse cx="554.39" cy="802.7" rx="3.25" ry="3.45"/><ellipse cx="554.39" cy="824.9" rx="3.25" ry="3.45"/>
<rect x="587.39" y="802.8" width="56.8" height="2.5" fill="#acd9d4" stroke="rgba(51,51,51,0.78)" stroke-width="1.2"/><line x1="587.39" x2="644.19" y1="802.8" y2="802.8" stroke="#2a2a2a" stroke-width="1.9"/><line x1="587.39" x2="644.19" y1="803.1" y2="803.1" stroke="#e31a1c" stroke-width="2.0" stroke-dasharray="6.5 6.6"/><ellipse cx="615.79" cy="777.7" rx="3.25" ry="3.45"/><ellipse cx="615.79" cy="801.5" rx="3.25" ry="3.45"/><ellipse cx="615.79" cy="806" rx="3.25" ry="3.45"/><ellipse cx="615.79" cy="824.9" rx="3.25" ry="3.45"/>
<line x1="707.87" x2="707.87" y1="741.1" y2="816.1" stroke="#808080" stroke-width="1.4"/><line x1="707.87" x2="707.87" y1="908.2" y2="940.8" stroke="#808080" stroke-width="1.4"/><rect x="679.47" y="816.1" width="56.8" height="92.1" fill="#00adb5" stroke="rgba(51,51,51,0.78)" stroke-width="1.2"/><line x1="679.47" x2="736.27" y1="880.4" y2="880.4" stroke="#2a2a2a" stroke-width="1.9"/><line x1="679.47" x2="736.27" y1="858.7" y2="858.7" stroke="#e31a1c" stroke-width="2.0" stroke-dasharray="6.5 6.6"/><ellipse cx="707.87" cy="741.1" rx="3.25" ry="3.45"/><ellipse cx="707.87" cy="764.8" rx="3.25" ry="3.45"/><ellipse cx="707.87" cy="866.5" rx="3.25" ry="3.45"/><ellipse cx="707.87" cy="880.4" rx="3.25" ry="3.45"/><ellipse cx="707.87" cy="893.5" rx="3.25" ry="3.45"/><ellipse cx="707.87" cy="924.8" rx="3.25" ry="3.45"/><ellipse cx="707.87" cy="940.8" rx="3.25" ry="3.45"/>
<line x1="769.27" x2="769.27" y1="741.1" y2="817.4" stroke="#808080" stroke-width="1.4"/><line x1="769.27" x2="769.27" y1="908.2" y2="940.8" stroke="#808080" stroke-width="1.4"/><rect x="740.87" y="817.4" width="56.8" height="90.8" fill="#acd9d4" stroke="rgba(51,51,51,0.78)" stroke-width="1.2"/><line x1="740.87" x2="797.67" y1="880.4" y2="880.4" stroke="#2a2a2a" stroke-width="1.9"/><line x1="740.87" x2="797.67" y1="859.1" y2="859.1" stroke="#e31a1c" stroke-width="2.0" stroke-dasharray="6.5 6.6"/><ellipse cx="769.27" cy="741.1" rx="3.25" ry="3.45"/><ellipse cx="769.27" cy="767.7" rx="3.25" ry="3.45"/><ellipse cx="769.27" cy="866.5" rx="3.25" ry="3.45"/><ellipse cx="769.27" cy="880.4" rx="3.25" ry="3.45"/><ellipse cx="769.27" cy="893.5" rx="3.25" ry="3.45"/><ellipse cx="769.27" cy="924.8" rx="3.25" ry="3.45"/><ellipse cx="769.27" cy="940.8" rx="3.25" ry="3.45"/>
<line x1="832.95" x2="889.75" y1="761" y2="761" stroke="#444" stroke-width="1.4"/><line x1="832.95" x2="889.75" y1="761.1" y2="761.1" stroke="#2a2a2a" stroke-width="1.9"/><line x1="832.95" x2="889.75" y1="761.1" y2="761.1" stroke="#e31a1c" stroke-width="2.0" stroke-dasharray="6.5 6.6"/><ellipse cx="861.35" cy="761.1" rx="3.25" ry="3.45"/>
<line x1="894.35" x2="951.15" y1="761" y2="761" stroke="#444" stroke-width="1.4"/><line x1="894.35" x2="951.15" y1="761.1" y2="761.1" stroke="#2a2a2a" stroke-width="1.9"/><line x1="894.35" x2="951.15" y1="761.1" y2="761.1" stroke="#e31a1c" stroke-width="2.0" stroke-dasharray="6.5 6.6"/><ellipse cx="922.75" cy="761.1" rx="3.25" ry="3.45"/>
<line x1="32.5" x2="984" y1="500.5" y2="500.5" stroke="#c4c4c4" stroke-width="1"/>
<line x1="33" x2="33" y1="500.5" y2="962.5" stroke="#8e8e8e" stroke-width="1"/>
<line x1="984" x2="984" y1="500" y2="963.25" stroke="#808080" stroke-width="1.5"/>
<line x1="32" x2="984" y1="962.5" y2="962.5" stroke="#808080" stroke-width="1.5"/>
<line x1="30.1" x2="32.5" y1="603" y2="603" stroke="#333" stroke-width="1.1"/><line x1="30.1" x2="32.5" y1="729.7" y2="729.7" stroke="#333" stroke-width="1.1"/><line x1="30.1" x2="32.5" y1="856.4" y2="856.4" stroke="#333" stroke-width="1.1"/><line x1="124.65" x2="124.65" y1="963.2" y2="965.5" stroke="#333" stroke-width="1.1"/><line x1="278.13" x2="278.13" y1="963.2" y2="965.5" stroke="#333" stroke-width="1.1"/><line x1="431.61" x2="431.61" y1="963.2" y2="965.5" stroke="#333" stroke-width="1.1"/><line x1="585.09" x2="585.09" y1="963.2" y2="965.5" stroke="#333" stroke-width="1.1"/><line x1="738.57" x2="738.57" y1="963.2" y2="965.5" stroke="#333" stroke-width="1.1"/><line x1="892.05" x2="892.05" y1="963.2" y2="965.5" stroke="#333" stroke-width="1.1"/>
<text x="27.9" y="609.1" class="yl">7.5</text><text x="27.9" y="735.8" class="yl">5.0</text><text x="27.9" y="862.5" class="yl">2.5</text><text x="124.65" y="980.3" class="xl">Italy</text><text x="278.13" y="980.3" class="xl">Alpine</text><text x="431.61" y="980.3" class="xl">Europe</text><text x="585.09" y="980.3" class="xl">Africa</text><text x="738.57" y="980.3" class="xl">Asia</text><text x="892.05" y="980.3" class="xl">Brazil</text><text x="47" y="545" class="pl">c)</text>
<line x1="1054.5" x2="1991" y1="545.8" y2="545.8" stroke="#f6f6f6" stroke-width="1"/><line x1="1054.5" x2="1991" y1="669.4" y2="669.4" stroke="#f6f6f6" stroke-width="1"/><line x1="1054.5" x2="1991" y1="793" y2="793" stroke="#f6f6f6" stroke-width="1"/><line x1="1054.5" x2="1991" y1="916.6" y2="916.6" stroke="#f6f6f6" stroke-width="1"/><line x1="1054.5" x2="1991" y1="607.6" y2="607.6" stroke="#efefef" stroke-width="1.1"/><line x1="1054.5" x2="1991" y1="731.2" y2="731.2" stroke="#efefef" stroke-width="1.1"/><line x1="1054.5" x2="1991" y1="854.8" y2="854.8" stroke="#efefef" stroke-width="1.1"/><line x1="1145.05" x2="1145.05" y1="500.5" y2="962.2" stroke="#efefef" stroke-width="1.1"/><line x1="1296.22" x2="1296.22" y1="500.5" y2="962.2" stroke="#efefef" stroke-width="1.1"/><line x1="1447.39" x2="1447.39" y1="500.5" y2="962.2" stroke="#efefef" stroke-width="1.1"/><line x1="1598.56" x2="1598.56" y1="500.5" y2="962.2" stroke="#efefef" stroke-width="1.1"/><line x1="1749.73" x2="1749.73" y1="500.5" y2="962.2" stroke="#efefef" stroke-width="1.1"/><line x1="1900.9" x2="1900.9" y1="500.5" y2="962.2" stroke="#efefef" stroke-width="1.1"/>
<line x1="1114.82" x2="1114.82" y1="632.2" y2="666.7" stroke="#808080" stroke-width="1.4"/><line x1="1114.82" x2="1114.82" y1="706.5" y2="718.8" stroke="#808080" stroke-width="1.4"/><rect x="1086.85" y="666.7" width="55.94" height="39.8" fill="#00adb5" stroke="rgba(51,51,51,0.78)" stroke-width="1.2"/><line x1="1086.85" x2="1142.79" y1="681.8" y2="681.8" stroke="#2a2a2a" stroke-width="1.9"/><line x1="1086.85" x2="1142.79" y1="686.7" y2="686.7" stroke="#e31a1c" stroke-width="2.0" stroke-dasharray="6.3 6.4"/><ellipse cx="1114.82" cy="632.2" rx="3.25" ry="3.45"/><ellipse cx="1114.82" cy="657.1" rx="3.25" ry="3.45"/><ellipse cx="1114.82" cy="669.5" rx="3.25" ry="3.45"/><ellipse cx="1114.82" cy="681.8" rx="3.25" ry="3.45"/><ellipse cx="1114.82" cy="694.3" rx="3.25" ry="3.45"/><ellipse cx="1114.82" cy="706.6" rx="3.25" ry="3.45"/><ellipse cx="1114.82" cy="718.8" rx="3.25" ry="3.45"/><ellipse cx="1114.82" cy="767.7" rx="3.25" ry="3.45"/>
<line x1="1175.28" x2="1175.28" y1="632.2" y2="669.5" stroke="#808080" stroke-width="1.4"/><line x1="1175.28" x2="1175.28" y1="706.6" y2="718.8" stroke="#808080" stroke-width="1.4"/><rect x="1147.31" y="669.5" width="55.94" height="37.1" fill="#acd9d4" stroke="rgba(51,51,51,0.78)" stroke-width="1.2"/><line x1="1147.31" x2="1203.25" y1="681.8" y2="681.8" stroke="#2a2a2a" stroke-width="1.9"/><line x1="1147.31" x2="1203.25" y1="690.6" y2="690.6" stroke="#e31a1c" stroke-width="2.0" stroke-dasharray="6.3 6.4"/><ellipse cx="1175.28" cy="632.2" rx="3.25" ry="3.45"/><ellipse cx="1175.28" cy="644.7" rx="3.25" ry="3.45"/><ellipse cx="1175.28" cy="657.1" rx="3.25" ry="3.45"/><ellipse cx="1175.28" cy="669.5" rx="3.25" ry="3.45"/><ellipse cx="1175.28" cy="681.8" rx="3.25" ry="3.45"/><ellipse cx="1175.28" cy="694.3" rx="3.25" ry="3.45"/><ellipse cx="1175.28" cy="706.6" rx="3.25" ry="3.45"/><ellipse cx="1175.28" cy="718.8" rx="3.25" ry="3.45"/><ellipse cx="1175.28" cy="767.7" rx="3.25" ry="3.45"/>
<line x1="1265.99" x2="1265.99" y1="533.8" y2="632.5" stroke="#808080" stroke-width="1.4"/><line x1="1265.99" x2="1265.99" y1="706.5" y2="718.8" stroke="#808080" stroke-width="1.4"/><rect x="1238.02" y="632.5" width="55.94" height="74" fill="#00adb5" stroke="rgba(51,51,51,0.78)" stroke-width="1.2"/><line x1="1238.02" x2="1293.96" y1="688.4" y2="688.4" stroke="#2a2a2a" stroke-width="1.9"/><line x1="1238.02" x2="1293.96" y1="657.1" y2="657.1" stroke="#e31a1c" stroke-width="2.0" stroke-dasharray="6.3 6.4"/><ellipse cx="1265.99" cy="521.3" rx="3.25" ry="3.45"/><ellipse cx="1265.99" cy="533.8" rx="3.25" ry="3.45"/><ellipse cx="1265.99" cy="619.9" rx="3.25" ry="3.45"/><ellipse cx="1265.99" cy="669.4" rx="3.25" ry="3.45"/><ellipse cx="1265.99" cy="681.9" rx="3.25" ry="3.45"/><ellipse cx="1265.99" cy="694.2" rx="3.25" ry="3.45"/><ellipse cx="1265.99" cy="706.5" rx="3.25" ry="3.45"/><ellipse cx="1265.99" cy="718.8" rx="3.25" ry="3.45"/>
<line x1="1326.45" x2="1326.45" y1="533.8" y2="635.7" stroke="#808080" stroke-width="1.4"/><line x1="1326.45" x2="1326.45" y1="715.8" y2="731.4" stroke="#808080" stroke-width="1.4"/><rect x="1298.48" y="635.7" width="55.94" height="80.1" fill="#acd9d4" stroke="rgba(51,51,51,0.78)" stroke-width="1.2"/><line x1="1298.48" x2="1354.42" y1="688.4" y2="688.4" stroke="#2a2a2a" stroke-width="1.9"/><line x1="1298.48" x2="1354.42" y1="661" y2="661" stroke="#e31a1c" stroke-width="2.0" stroke-dasharray="6.3 6.4"/><ellipse cx="1326.45" cy="521.3" rx="3.25" ry="3.45"/><ellipse cx="1326.45" cy="533.8" rx="3.25" ry="3.45"/><ellipse cx="1326.45" cy="619.9" rx="3.25" ry="3.45"/><ellipse cx="1326.45" cy="681.9" rx="3.25" ry="3.45"/><ellipse cx="1326.45" cy="694.2" rx="3.25" ry="3.45"/><ellipse cx="1326.45" cy="706.5" rx="3.25" ry="3.45"/><ellipse cx="1326.45" cy="718.8" rx="3.25" ry="3.45"/><ellipse cx="1326.45" cy="731.4" rx="3.25" ry="3.45"/>
<line x1="1417.16" x2="1417.16" y1="632.3" y2="651.1" stroke="#808080" stroke-width="1.4"/><rect x="1389.19" y="651.1" width="55.94" height="30.9" fill="#00adb5" stroke="rgba(51,51,51,0.78)" stroke-width="1.2"/><line x1="1389.19" x2="1445.13" y1="675.9" y2="675.9" stroke="#2a2a2a" stroke-width="1.9"/><line x1="1389.19" x2="1445.13" y1="665.4" y2="665.4" stroke="#e31a1c" stroke-width="2.0" stroke-dasharray="6.3 6.4"/><ellipse cx="1417.16" cy="632.3" rx="3.25" ry="3.45"/><ellipse cx="1417.16" cy="644.9" rx="3.25" ry="3.45"/><ellipse cx="1417.16" cy="669.8" rx="3.25" ry="3.45"/><ellipse cx="1417.16" cy="682" rx="3.25" ry="3.45"/>
<line x1="1477.62" x2="1477.62" y1="632.3" y2="660.4" stroke="#808080" stroke-width="1.4"/><line x1="1477.62" x2="1477.62" y1="682.1" y2="694.3" stroke="#808080" stroke-width="1.4"/><rect x="1449.65" y="660.4" width="55.94" height="21.7" fill="#acd9d4" stroke="rgba(51,51,51,0.78)" stroke-width="1.2"/><line x1="1449.65" x2="1505.59" y1="675.9" y2="675.9" stroke="#2a2a2a" stroke-width="1.9"/><line x1="1449.65" x2="1505.59" y1="669.8" y2="669.8" stroke="#e31a1c" stroke-width="2.0" stroke-dasharray="6.3 6.4"/><ellipse cx="1477.62" cy="632.3" rx="3.25" ry="3.45"/><ellipse cx="1477.62" cy="657.1" rx="3.25" ry="3.45"/><ellipse cx="1477.62" cy="669.4" rx="3.25" ry="3.45"/><ellipse cx="1477.62" cy="682" rx="3.25" ry="3.45"/><ellipse cx="1477.62" cy="694.3" rx="3.25" ry="3.45"/>
<line x1="1540.36" x2="1596.3" y1="793" y2="793" stroke="#444" stroke-width="1.4"/><line x1="1540.36" x2="1596.3" y1="793" y2="793" stroke="#2a2a2a" stroke-width="1.9"/><line x1="1540.36" x2="1596.3" y1="793" y2="793" stroke="#e31a1c" stroke-width="2.0" stroke-dasharray="6.3 6.4"/><ellipse cx="1568.33" cy="768.2" rx="3.25" ry="3.45"/><ellipse cx="1568.33" cy="792.9" rx="3.25" ry="3.45"/><ellipse cx="1568.33" cy="817.5" rx="3.25" ry="3.45"/>
<line x1="1628.79" x2="1628.79" y1="805.3" y2="817.5" stroke="#808080" stroke-width="1.4"/><rect x="1600.82" y="792.9" width="55.94" height="12.4" fill="#acd9d4" stroke="rgba(51,51,51,0.78)" stroke-width="1.2"/><line x1="1600.82" x2="1656.76" y1="805.3" y2="805.3" stroke="#2a2a2a" stroke-width="1.9"/><line x1="1600.82" x2="1656.76" y1="798" y2="798" stroke="#e31a1c" stroke-width="2.0" stroke-dasharray="6.3 6.4"/><ellipse cx="1628.79" cy="768.2" rx="3.25" ry="3.45"/><ellipse cx="1628.79" cy="792.9" rx="3.25" ry="3.45"/><ellipse cx="1628.79" cy="805" rx="3.25" ry="3.45"/><ellipse cx="1628.79" cy="817.5" rx="3.25" ry="3.45"/>
<line x1="1719.5" x2="1719.5" y1="743.3" y2="812.1" stroke="#808080" stroke-width="1.4"/><line x1="1719.5" x2="1719.5" y1="885.3" y2="940.8" stroke="#808080" stroke-width="1.4"/><rect x="1691.53" y="812.1" width="55.94" height="73.2" fill="#00adb5" stroke="rgba(51,51,51,0.78)" stroke-width="1.2"/><line x1="1691.53" x2="1747.47" y1="879.3" y2="879.3" stroke="#2a2a2a" stroke-width="1.9"/><line x1="1691.53" x2="1747.47" y1="851.1" y2="851.1" stroke="#e31a1c" stroke-width="2.0" stroke-dasharray="6.3 6.4"/><ellipse cx="1719.5" cy="743.3" rx="3.25" ry="3.45"/><ellipse cx="1719.5" cy="756.2" rx="3.25" ry="3.45"/><ellipse cx="1719.5" cy="866.9" rx="3.25" ry="3.45"/><ellipse cx="1719.5" cy="879.3" rx="3.25" ry="3.45"/><ellipse cx="1719.5" cy="891.5" rx="3.25" ry="3.45"/><ellipse cx="1719.5" cy="940.8" rx="3.25" ry="3.45"/>
<line x1="1779.96" x2="1779.96" y1="743.3" y2="817.6" stroke="#808080" stroke-width="1.4"/><line x1="1779.96" x2="1779.96" y1="903.7" y2="940.8" stroke="#808080" stroke-width="1.4"/><rect x="1751.99" y="817.6" width="55.94" height="86.1" fill="#acd9d4" stroke="rgba(51,51,51,0.78)" stroke-width="1.2"/><line x1="1751.99" x2="1807.93" y1="879.3" y2="879.3" stroke="#2a2a2a" stroke-width="1.9"/><line x1="1751.99" x2="1807.93" y1="858.2" y2="858.2" stroke="#e31a1c" stroke-width="2.0" stroke-dasharray="6.3 6.4"/><ellipse cx="1779.96" cy="743.3" rx="3.25" ry="3.45"/><ellipse cx="1779.96" cy="768.2" rx="3.25" ry="3.45"/><ellipse cx="1779.96" cy="866.9" rx="3.25" ry="3.45"/><ellipse cx="1779.96" cy="879.3" rx="3.25" ry="3.45"/><ellipse cx="1779.96" cy="891.5" rx="3.25" ry="3.45"/><ellipse cx="1779.96" cy="916.4" rx="3.25" ry="3.45"/><ellipse cx="1779.96" cy="940.8" rx="3.25" ry="3.45"/>
<line x1="1842.7" x2="1898.64" y1="756" y2="756" stroke="#444" stroke-width="1.4"/><line x1="1842.7" x2="1898.64" y1="756.1" y2="756.1" stroke="#2a2a2a" stroke-width="1.9"/><line x1="1842.7" x2="1898.64" y1="756.1" y2="756.1" stroke="#e31a1c" stroke-width="2.0" stroke-dasharray="6.3 6.4"/><ellipse cx="1870.67" cy="756.1" rx="3.25" ry="3.45"/>
<line x1="1903.16" x2="1959.1" y1="756" y2="756" stroke="#444" stroke-width="1.4"/><line x1="1903.16" x2="1959.1" y1="756.1" y2="756.1" stroke="#2a2a2a" stroke-width="1.9"/><line x1="1903.16" x2="1959.1" y1="756.1" y2="756.1" stroke="#e31a1c" stroke-width="2.0" stroke-dasharray="6.3 6.4"/><ellipse cx="1931.13" cy="756.1" rx="3.25" ry="3.45"/>
<line x1="1054.5" x2="1991" y1="500.5" y2="500.5" stroke="#c4c4c4" stroke-width="1"/>
<line x1="1055" x2="1055" y1="500.5" y2="962.2" stroke="#8e8e8e" stroke-width="1"/>
<line x1="1991" x2="1991" y1="500" y2="962.95" stroke="#808080" stroke-width="1.5"/>
<line x1="1054" x2="1991" y1="962.2" y2="962.2" stroke="#808080" stroke-width="1.5"/>
<line x1="1052.1" x2="1054.5" y1="607.6" y2="607.6" stroke="#333" stroke-width="1.1"/><line x1="1052.1" x2="1054.5" y1="731.2" y2="731.2" stroke="#333" stroke-width="1.1"/><line x1="1052.1" x2="1054.5" y1="854.8" y2="854.8" stroke="#333" stroke-width="1.1"/><line x1="1145.05" x2="1145.05" y1="962.9" y2="965.2" stroke="#333" stroke-width="1.1"/><line x1="1296.22" x2="1296.22" y1="962.9" y2="965.2" stroke="#333" stroke-width="1.1"/><line x1="1447.39" x2="1447.39" y1="962.9" y2="965.2" stroke="#333" stroke-width="1.1"/><line x1="1598.56" x2="1598.56" y1="962.9" y2="965.2" stroke="#333" stroke-width="1.1"/><line x1="1749.73" x2="1749.73" y1="962.9" y2="965.2" stroke="#333" stroke-width="1.1"/><line x1="1900.9" x2="1900.9" y1="962.9" y2="965.2" stroke="#333" stroke-width="1.1"/>
<text x="1050" y="613.7" class="yl">0.003</text><text x="1050" y="737.3" class="yl">0.002</text><text x="1050" y="860.9" class="yl">0.001</text><text x="1145.05" y="980.3" class="xl">Italy</text><text x="1296.22" y="980.3" class="xl">Alpine</text><text x="1447.39" y="980.3" class="xl">Europe</text><text x="1598.56" y="980.3" class="xl">Africa</text><text x="1749.73" y="980.3" class="xl">Asia</text><text x="1900.9" y="980.3" class="xl">Brazil</text><text x="1071.5" y="542.6" class="pl">d)</text>
</svg>
</body></html>
